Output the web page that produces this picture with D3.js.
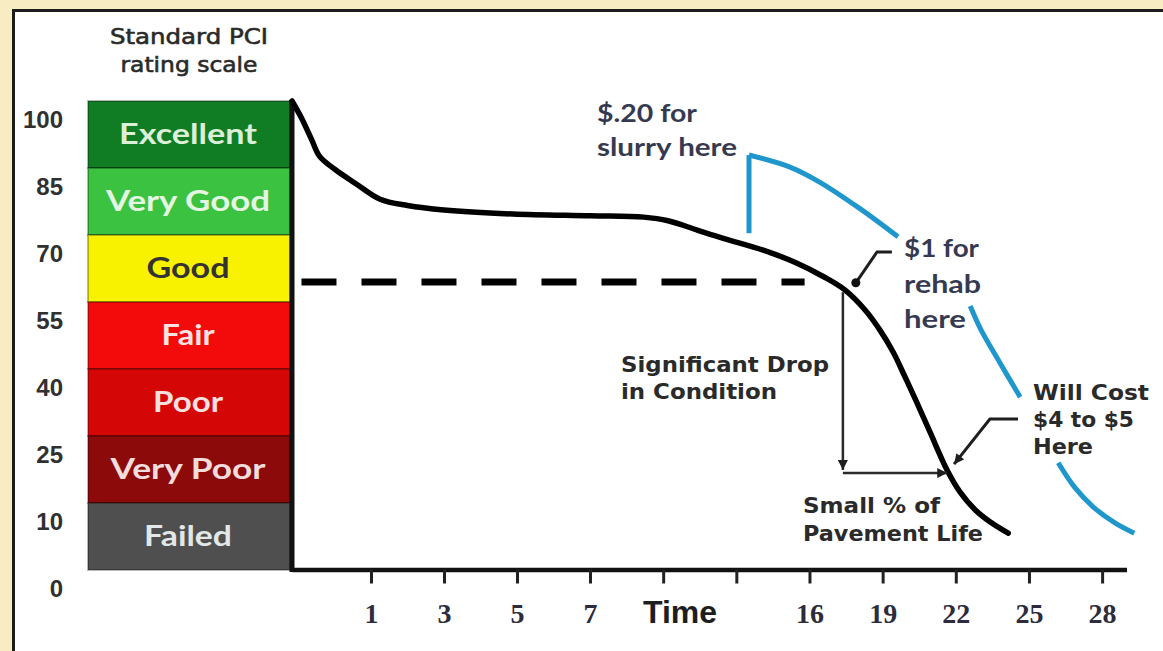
<!DOCTYPE html>
<html>
<head>
<meta charset="utf-8">
<script src="https://cdn.jsdelivr.net/npm/d3@7/dist/d3.min.js"></script>
<style>
  html, body { margin: 0; padding: 0; background: #f8ecc2; }
  svg { display: block; }
</style>
</head>
<body>
<svg id="chart" width="1163" height="651"></svg>
<script>
// ---------------- data ----------------
const bandNames = ["Excellent", "Very Good", "Good", "Fair", "Poor", "Very Poor", "Failed"];
const pciBreaks = [100, 85, 70, 55, 40, 25, 10, 0];
const pciTickLabels = ["100", "85", "70", "55", "40", "25", "10", "0"];
const timeTicks = [1, 3, 5, 7, 10, 13, 16, 19, 22, 25, 28];
const timeTickLabels = ["1", "3", "5", "7", "", "", "16", "19", "22", "25", "28"];

// main deterioration curve [time, PCI]
const pciCurve = [
  [0, 100], [0.12, 96.2], [0.25, 91.3], [0.35, 87.6], [0.55, 84.6], [0.80, 81.6],
  [1.25, 78.0], [2.0, 76.6], [3.0, 75.6], [4.89, 74.7], [7.0, 74.3], [9.2, 74.0], [10.2, 73.2],
  [11.4, 71.1], [12.5, 69.2], [14.1, 66.6], [15.4, 63.9], [16.6, 60.6], [17.45, 57.7],
  [18.28, 53.2], [18.89, 48.7], [19.43, 43.8], [19.92, 38.2], [20.41, 32.4], [20.94, 25.9],
  [21.64, 17.4], [22.17, 12.5], [22.79, 9.0], [23.4, 7.2], [24.15, 5.5]
];
// treated-pavement (blue) curves [time, PCI]
const slurryRise = [[13.52, 70.4], [13.52, 87.9]];
const slurryCurve = [[13.52, 87.9], [15.2, 85.2], [16.43, 81.8], [18.07, 75.9], [19.63, 69.6]];
const rehabCurve = [[22.59, 54.1], [23.04, 48.7], [23.82, 41.3], [24.64, 33.7]];
const reconCurve = [[26.2, 19.0], [26.86, 13.6], [27.64, 9.4], [28.54, 7.0], [29.32, 5.5]];

// trigger (dashed) level and annotation geometry in data units
const triggerPci = 59.5;
const triggerSpan = [0.12, 15.8];
const dropArrow = [[17.37, 57.2], [17.37, 17.4]];
const lifeArrow = [[17.37, 16.7], [21.65, 16.7]];
const rehabPointer = [[17.9, 59.3], [18.77, 66.2], [19.38, 66.2]];
const costPointer = [[24.55, 28.8], [23.4, 28.8], [21.93, 18.7]];

const titleLines = ["Standard PCI", "rating scale"];
const noteSlurry = ["$.20 for", "slurry here"];
const noteRehab = ["$1 for", "rehab", "here"];
const noteDrop = ["Significant Drop", "in Condition"];
const noteLife = ["Small % of", "Pavement Life"];
const noteCost = ["Will Cost", "$4 to $5", "Here"];
const axisTitle = "Time";

// ---------------- styles ----------------
const bandPalette = ["#107d24", "#3bc240", "#f8f200", "#f30a0a", "#d50606", "#8c0a0a", "#4f4f4f"];
const bandTextPalette = ["#dcefd8", "#e4f6e2", "#333333", "#fbe3e3", "#f9e0e0", "#f2dcdc", "#e2e8e8"];

const svg = d3.select("#chart");

// frame
svg.append("rect").attr("x", 0).attr("y", 0).attr("width", 1163).attr("height", 651).attr("fill", "#f8ecc2");
svg.append("rect").attr("x", 13.5).attr("y", 10.5).attr("width", 1200).attr("height", 700)
  .attr("fill", "#ffffff").attr("stroke", "#1c1c1c").attr("stroke-width", 3);

// scales
const y = d3.scaleLinear().domain(pciBreaks).range([101, 168, 235, 302, 369, 436, 503, 570]);
const x = d3.scaleLinear().domain([0, 1, 7, 29]).range([292, 371, 590, 1126.5]);
const bandColor = d3.scaleOrdinal(bandNames, bandPalette);
const bandText = d3.scaleOrdinal(bandNames, bandTextPalette);
const bandLabelWidth = {"Excellent": 138, "Very Good": 164, "Good": 83, "Fair": 53, "Poor": 70, "Very Poor": 155, "Failed": 88};

// title
svg.append("g").selectAll("text").data(titleLines).join("text")
  .attr("x", 189).attr("y", (d, i) => 44 + i * 28)
  .attr("text-anchor", "middle")
  .attr("font-family", "DejaVu Sans").attr("font-size", 21)
  .attr("fill", "#2a2a2a").attr("stroke", "#2a2a2a").attr("stroke-width", 0.6)
  .attr("textLength", (d, i) => i === 0 ? 158 : 137).attr("lengthAdjust", "spacingAndGlyphs")
  .text(d => d);

// bands
const bands = bandNames.map((n, i) => ({name: n, hi: pciBreaks[i], lo: pciBreaks[i + 1]}));
const bandG = svg.append("g");
bandG.selectAll("rect").data(bands).join("rect")
  .attr("x", 88).attr("width", 202)
  .attr("y", d => y(d.hi)).attr("height", d => y(d.lo) - y(d.hi))
  .attr("fill", d => bandColor(d.name))
  .attr("stroke", "rgba(0,0,0,0.28)").attr("stroke-width", 2);
bandG.selectAll("text").data(bands).join("text")
  .attr("x", 188).attr("y", d => (y(d.hi) + y(d.lo)) / 2 + 9)
  .attr("text-anchor", "middle")
  .attr("font-family", "Lato").attr("font-weight", "bold").attr("font-size", 29)
  .attr("fill", d => bandText(d.name))
  .attr("textLength", d => bandLabelWidth[d.name]).attr("lengthAdjust", "spacingAndGlyphs")
  .text(d => d.name);

// y axis labels
const yAxis = d3.axisLeft(y).tickValues(pciBreaks).tickSize(0).tickPadding(0)
  .tickFormat((d, i) => pciTickLabels[i]);
const yG = svg.append("g").attr("transform", "translate(63,0)").call(yAxis);
yG.select(".domain").remove();
yG.selectAll("text")
  .attr("y", 18).attr("dy", "0.36em").attr("x", 0)
  .attr("font-family", "Liberation Sans").attr("font-weight", "bold").attr("font-size", 24)
  .attr("fill", "#303030");

// x axis
const xAxis = d3.axisBottom(x).tickValues(timeTicks).tickSize(14).tickSizeOuter(0)
  .tickFormat((d, i) => timeTickLabels[i]);
const xG = svg.append("g").attr("transform", "translate(0,569.5)").call(xAxis);
xG.select(".domain").attr("stroke", "#111").attr("stroke-width", 4.5);
xG.selectAll(".tick line").attr("stroke", "#222").attr("stroke-width", 3);
xG.selectAll(".tick text")
  .attr("y", 53).attr("dy", 0)
  .attr("font-family", "Liberation Serif").attr("font-weight", "bold").attr("font-size", 28)
  .attr("fill", "#2c2c3c");
svg.append("text").attr("x", 680).attr("y", 623).attr("text-anchor", "middle")
  .attr("font-family", "Liberation Sans").attr("font-weight", "bold").attr("font-size", 32)
  .attr("fill", "#1e1e1e").text(axisTitle);

// vertical axis line
svg.append("line").attr("x1", x(0)).attr("x2", x(0)).attr("y1", y(100) - 1).attr("y2", y(0) + 2)
  .attr("stroke", "#111").attr("stroke-width", 5);

// dashed trigger line
svg.append("line")
  .attr("x1", x(triggerSpan[0])).attr("x2", x(triggerSpan[1]))
  .attr("y1", y(triggerPci)).attr("y2", y(triggerPci))
  .attr("stroke", "#000").attr("stroke-width", 7).attr("stroke-dasharray", "35,25");

// markers
const defs = svg.append("defs");
defs.append("marker").attr("id", "arrow").attr("markerUnits", "userSpaceOnUse")
  .attr("viewBox", "0 0 10 10").attr("refX", 10).attr("refY", 5)
  .attr("markerWidth", 11).attr("markerHeight", 10).attr("orient", "auto")
  .append("path").attr("d", "M0,0 L10,5 L0,10 Z").attr("fill", "#1e1e1e");

// main curve
const lineSmooth = d3.line().x(d => x(d[0])).y(d => y(d[1])).curve(d3.curveCatmullRom.alpha(0.5));
const lineStraight = d3.line().x(d => x(d[0])).y(d => y(d[1]));

svg.append("path").datum(pciCurve).attr("d", lineSmooth)
  .attr("fill", "none").attr("stroke", "#000").attr("stroke-width", 5.5)
  .attr("stroke-linecap", "round").attr("stroke-linejoin", "round");

// blue curves
const blue = "#1f97cc";
svg.append("path").datum(slurryRise).attr("d", lineStraight)
  .attr("fill", "none").attr("stroke", blue).attr("stroke-width", 5).attr("stroke-linecap", "butt");
[slurryCurve, rehabCurve, reconCurve].forEach(seg => {
  svg.append("path").datum(seg).attr("d", lineSmooth)
    .attr("fill", "none").attr("stroke", blue).attr("stroke-width", 5)
    .attr("stroke-linecap", "butt").attr("stroke-linejoin", "miter");
});

// annotation arrows
svg.append("path").datum(dropArrow).attr("d", lineStraight)
  .attr("fill", "none").attr("stroke", "#2a2a2a").attr("stroke-width", 2.5)
  .attr("marker-end", "url(#arrow)");
svg.append("path").datum(lifeArrow).attr("d", lineStraight)
  .attr("fill", "none").attr("stroke", "#2a2a2a").attr("stroke-width", 2.5)
  .attr("marker-end", "url(#arrow)");
svg.append("path").datum(rehabPointer).attr("d", lineStraight)
  .attr("fill", "none").attr("stroke", "#1e1e1e").attr("stroke-width", 3);
svg.append("circle").attr("cx", x(rehabPointer[0][0])).attr("cy", y(rehabPointer[0][1])).attr("r", 4.5)
  .attr("fill", "#111");
svg.append("path").datum(costPointer).attr("d", lineStraight)
  .attr("fill", "none").attr("stroke", "#1e1e1e").attr("stroke-width", 3)
  .attr("marker-end", "url(#arrow)");

// notes
function note(lines, x0, y0, step, widths, opts) {
  svg.append("g").selectAll("text").data(lines).join("text")
    .attr("x", x0).attr("y", (d, i) => y0 + i * step)
    .attr("font-family", opts.family).attr("font-weight", "bold").attr("font-size", opts.size)
    .attr("fill", opts.fill)
    .attr("textLength", (d, i) => widths[i]).attr("lengthAdjust", "spacingAndGlyphs")
    .text(d => d);
}
const calibriLike = {family: "Lato", size: 24, fill: "#363a50"};
const gothicLike = {family: "DejaVu Sans", size: 22, fill: "#2a2a2a"};
note(noteSlurry, 597, 122, 34, [100, 140], calibriLike);
note(noteRehab, 904, 257, 35.5, [75, 77, 62], calibriLike);
note(noteDrop, 621, 372, 27, [208, 156], gothicLike);
note(noteLife, 803, 513, 28, [137, 180], gothicLike);
note(noteCost, 1033, 400, 27, [116, 101, 60], {family: "DejaVu Sans", size: 21, fill: "#2a2a2a"});
</script>
</body>
</html>
